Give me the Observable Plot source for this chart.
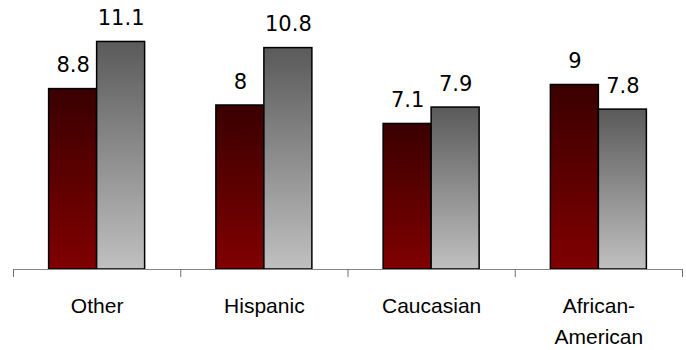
<!DOCTYPE html>
<html>
<head>
<meta charset="utf-8">
<script src="https://cdn.jsdelivr.net/npm/d3@7"></script>
<script src="https://cdn.jsdelivr.net/npm/@observablehq/plot@0.6"></script>
<style>
  html, body { margin: 0; padding: 0; background: #fff; }
</style>
</head>
<body>
<div id="chart"></div>
<script>
// Groups along the axis, left to right
const categories = ["Other", "Hispanic", "Caucasian", "African-American"];
// Dark red series (left bar of each pair)
const redSeries = [8.8, 8, 7.1, 9];
// Grey series (right bar of each pair)
const greySeries = [11.1, 10.8, 7.9, 7.8];

const rows = categories.flatMap((category, index) => [
  {category, index, series: 0, value: redSeries[index]},
  {category, index, series: 1, value: greySeries[index]}
]);

// Each bar takes this fraction of a category slot; the pair sits in the middle
const barWidth = 0.287;
const left = d => d.index + 0.5 + (d.series - 1) * barWidth;
const right = d => left(d) + barWidth;
const centre = d => left(d) + barWidth / 2;

const barStyle = {x1: left, x2: right, y: "value", stroke: "#000", strokeWidth: 1.5};

const chart = Plot.plot({
  width: 686,
  height: 350,
  marginLeft: 13,
  marginRight: 4,
  marginTop: 23,
  marginBottom: 81,
  style: {fontFamily: "Liberation Sans, Arial, sans-serif", background: "#fff"},
  x: {domain: [0, categories.length], axis: null},
  y: {domain: [0, 12], axis: null},
  marks: [
    Plot.rectY(rows.filter(d => d.series === 0), {...barStyle, fill: "url(#red-fade)"}),
    Plot.rectY(rows.filter(d => d.series === 1), {...barStyle, fill: "url(#grey-fade)"}),
    Plot.ruleY([0], {stroke: "#868686", strokeWidth: 1}),
    // boundary ticks between the groups
    Plot.axisX(d3.range(categories.length + 1), {
      tickSize: 8, stroke: "#6e6e6e", tickFormat: () => ""
    }),
    // group names, centred in each slot
    Plot.axisX(categories.map((c, i) => i + 0.5), {
      tickSize: 0,
      tickPadding: 21,
      tickFormat: v => categories[Math.round(v - 0.5)].replace("-", "-\n"),
      fontSize: 21,
      lineHeight: 1.48,
      fill: "#000"
    }),
    Plot.text(rows, {
      x: centre, y: "value", text: d => String(d.value),
      lineAnchor: "bottom", dy: -17,
      fontSize: 21, fontFamily: "DejaVu Sans", fill: "#000"
    })
  ]
});

// Vertical fades used by the bars
const defs = d3.select(chart).insert("defs", ":first-child");
const fade = (id, top, bottom) => {
  const g = defs.append("linearGradient").attr("id", id)
    .attr("x1", 0).attr("y1", 0).attr("x2", 0).attr("y2", 1);
  g.append("stop").attr("offset", "0%").attr("stop-color", top);
  g.append("stop").attr("offset", "100%").attr("stop-color", bottom);
};
fade("red-fade", "#3a0000", "#800000");
fade("grey-fade", "#5a5a5a", "#c0c0c0");

document.getElementById("chart").appendChild(chart);
</script>
</body>
</html>
